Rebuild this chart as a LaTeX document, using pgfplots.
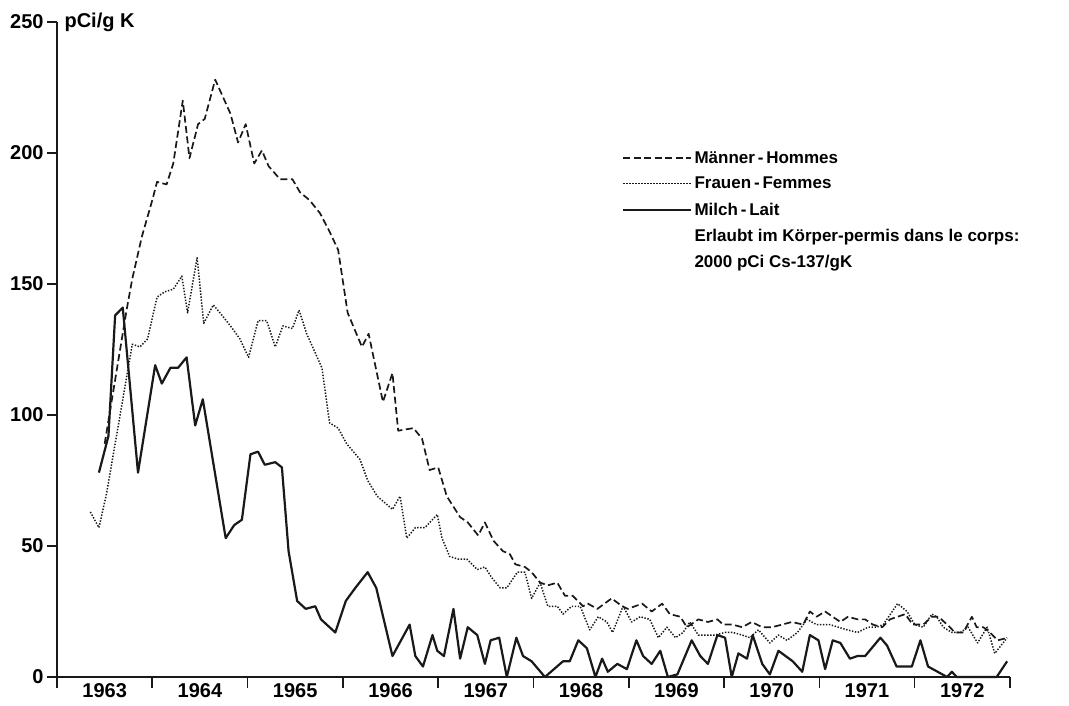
\documentclass[border=0pt]{standalone}
\usepackage{fontspec}
\setmainfont{Liberation Sans}
\usepackage{pgfplots}
\pgfplotsset{compat=1.18}
\begin{document}
\begin{tikzpicture}[x=1pt,y=1pt]
\useasboundingbox (0,0) rectangle (1069,706);
\begin{axis}[
  at={(57pt,29pt)}, anchor=south west,
  scale only axis, width=953pt, height=655pt,
  xmin=1963, xmax=1973, ymin=0, ymax=250,
  axis x line=bottom, axis y line=left,
  axis line style={-, line width=1.6pt, black!90},
  every outer x axis line/.append style={-},
  every outer y axis line/.append style={-},
  tick align=outside,
  xtick={1963.5,1964.5,...,1972.5},
  xticklabels={1963,1964,1965,1966,1967,1968,1969,1970,1971,1972},
  major x tick style={draw=none},
  minor xtick={1963,1964,...,1973},
  minor x tick style={line width=1.6pt, black!90},
  minor tick length=11pt,
  ytick={0,50,100,150,200,250},
  yticklabels={0,50,100,150,200,250},
  major tick length=10pt,
  y tick style={line width=1.4pt, black!90},
  ticklabel style={font=\bfseries\fontsize{20}{22}\selectfont},
  /pgf/number format/assume math mode=true,
  xticklabel style={yshift=7pt},
  every axis y label/.style={at={(rel axis cs:0,1)}, anchor=west, xshift=4pt},
  ylabel={\bfseries\fontsize{20}{22}\selectfont pCi/g K},
  legend style={at={(rel axis cs:0.593,0.806)}, anchor=north west, draw=none, fill=none,
    font=\bfseries\fontsize{17}{20}\selectfont, row sep=8.5pt, inner sep=0pt},
  legend cell align=left,
  legend image code/.code={\draw[#1] (0pt,0pt) -- (68pt,0pt);},
  clip=false,
]
\addplot[black!90, line width=1.7pt, dash pattern=on 7pt off 3.5pt, line join=round] coordinates {
(1963.50,89)(1963.73,140)(1963.79,152)(1963.89,168)(1964.00,182)(1964.05,189)(1964.15,188)(1964.22,196)(1964.32,220)(1964.39,198)(1964.48,211)(1964.55,213)(1964.66,228)(1964.82,215)(1964.90,204)(1964.98,211)(1965.07,196)(1965.15,201)(1965.22,195)(1965.34,190)(1965.47,190)(1965.55,185)(1965.65,182)(1965.76,177)(1965.86,170)(1965.95,163)(1966.05,139)(1966.20,126)(1966.27,131)(1966.42,105)(1966.52,116)(1966.58,94)(1966.74,95)(1966.83,91)(1966.91,79)(1967.00,80)(1967.09,69)(1967.23,61)(1967.31,59)(1967.42,54)(1967.49,59)(1967.58,52)(1967.68,48)(1967.75,47)(1967.81,43)(1967.91,42)(1967.98,40)(1968.07,36)(1968.15,35)(1968.25,36)(1968.33,31)(1968.41,31)(1968.52,27)(1968.57,28)(1968.67,26)(1968.82,30)(1968.93,27)(1968.99,26)(1969.14,28)(1969.24,25)(1969.35,28)(1969.43,24)(1969.54,23)(1969.61,19)(1969.73,22)(1969.83,21)(1969.93,22)(1969.99,20)(1970.09,20)(1970.19,19)(1970.29,21)(1970.40,19)(1970.50,19)(1970.61,20)(1970.71,21)(1970.83,20)(1970.90,25)(1970.97,23)(1971.06,25)(1971.14,23)(1971.22,21)(1971.30,23)(1971.40,22)(1971.48,22)(1971.56,20)(1971.66,19)(1971.74,22)(1971.90,24)(1971.98,20)(1972.09,20)(1972.18,23)(1972.25,23)(1972.37,19)(1972.42,17)(1972.51,17)(1972.60,23)(1972.65,19)(1972.72,19)(1972.79,17)(1972.87,14)(1972.98,15)
};
\addlegendentry{M\"anner\,-\,Hommes}
\addplot[black!90, line width=1.5pt, dash pattern=on 1.4pt off 1.6pt, line join=round] coordinates {
(1963.35,63)(1963.44,57)(1963.52,70)(1963.79,127)(1963.87,126)(1963.95,129)(1964.05,145)(1964.13,147)(1964.22,148)(1964.31,153)(1964.37,139)(1964.47,160)(1964.54,135)(1964.64,142)(1964.71,139)(1964.82,134)(1964.92,129)(1965.01,122)(1965.11,136)(1965.20,136)(1965.29,126)(1965.37,134)(1965.47,133)(1965.54,140)(1965.62,131)(1965.78,118)(1965.86,97)(1965.95,95)(1966.04,89)(1966.18,83)(1966.26,75)(1966.36,69)(1966.52,64)(1966.60,69)(1966.67,53)(1966.76,57)(1966.86,57)(1966.99,62)(1967.04,53)(1967.12,46)(1967.21,45)(1967.30,45)(1967.41,41)(1967.49,42)(1967.56,38)(1967.65,34)(1967.72,34)(1967.83,40)(1967.91,40)(1967.98,30)(1968.07,36)(1968.15,27)(1968.25,27)(1968.31,24)(1968.40,27)(1968.49,27)(1968.59,18)(1968.68,23)(1968.77,21)(1968.83,17)(1968.94,27)(1969.03,21)(1969.12,23)(1969.22,22)(1969.31,15)(1969.40,19)(1969.49,15)(1969.57,17)(1969.64,21)(1969.73,16)(1969.82,16)(1969.90,16)(1970.01,17)(1970.09,17)(1970.19,16)(1970.27,15)(1970.36,18)(1970.48,13)(1970.57,16)(1970.66,14)(1970.77,17)(1970.87,22)(1970.97,20)(1971.11,20)(1971.29,18)(1971.40,17)(1971.51,19)(1971.60,19)(1971.67,20)(1971.82,28)(1971.92,25)(1972.00,20)(1972.09,19)(1972.18,24)(1972.23,23)(1972.30,19)(1972.39,17)(1972.48,17)(1972.56,19)(1972.66,13)(1972.76,19)(1972.84,9)(1972.97,15)
};
\addlegendentry{Frauen\,-\,Femmes}
\addplot[black!90, line width=2.2pt, line join=round] coordinates {
(1963.44,78)(1963.54,92)(1963.61,138)(1963.69,141)(1963.85,78)(1964.03,119)(1964.10,112)(1964.19,118)(1964.27,118)(1964.36,122)(1964.45,96)(1964.53,106)(1964.77,53)(1964.86,58)(1964.94,60)(1965.03,85)(1965.11,86)(1965.18,81)(1965.29,82)(1965.36,80)(1965.43,48)(1965.52,29)(1965.61,26)(1965.71,27)(1965.77,22)(1965.92,17)(1966.03,29)(1966.13,34)(1966.26,40)(1966.35,34)(1966.52,8)(1966.70,20)(1966.76,8)(1966.84,4)(1966.94,16)(1966.99,10)(1967.06,8)(1967.16,26)(1967.23,7)(1967.31,19)(1967.41,16)(1967.49,5)(1967.55,14)(1967.64,15)(1967.72,0)(1967.82,15)(1967.89,8)(1967.98,6)(1968.12,0)(1968.31,6)(1968.38,6)(1968.47,14)(1968.56,11)(1968.65,0)(1968.72,7)(1968.78,2)(1968.88,5)(1968.98,3)(1969.08,14)(1969.15,8)(1969.24,5)(1969.33,10)(1969.41,0)(1969.51,1)(1969.66,14)(1969.75,8)(1969.83,5)(1969.93,16)(1970.01,15)(1970.08,0)(1970.15,9)(1970.24,7)(1970.30,16)(1970.40,5)(1970.48,1)(1970.57,10)(1970.72,6)(1970.82,2)(1970.90,16)(1970.99,14)(1971.06,3)(1971.14,14)(1971.22,13)(1971.32,7)(1971.40,8)(1971.48,8)(1971.64,15)(1971.71,12)(1971.81,4)(1971.90,4)(1971.97,4)(1972.06,14)(1972.14,4)(1972.34,0)(1972.39,2)(1972.44,0)(1972.86,0)(1972.97,6)
};
\addlegendentry{Milch\,-\,Lait}
\addlegendimage{empty legend}
\addlegendentry{Erlaubt im K\"orper-permis dans le corps:}
\addlegendimage{empty legend}
\addlegendentry{2000 pCi Cs-137/gK}
\end{axis}
\end{tikzpicture}
\end{document}
